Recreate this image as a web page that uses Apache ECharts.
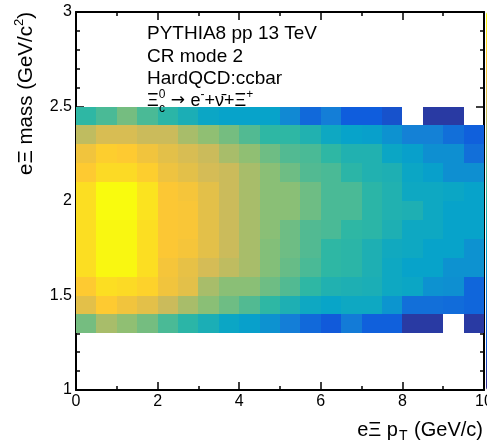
<!DOCTYPE html>
<html>
<head>
<meta charset="utf-8">
<script src="https://cdn.jsdelivr.net/npm/echarts@6/dist/echarts.min.js"></script>
<style>
  html, body { margin: 0; padding: 0; background: #fff; }
  #chart { width: 487px; height: 445px; }
</style>
</head>
<body>
<div id="chart"></div>
<script>
// Bin edges of the 2D histogram
const ptEdges = [0, 0.5, 1, 1.5, 2, 2.5, 3, 3.5, 4, 4.5, 5, 5.5, 6, 6.5, 7, 7.5, 8, 8.5, 9, 9.5, 10];
const massEdges = [1.3, 1.4, 1.5, 1.6, 1.7, 1.8, 1.9, 2.0, 2.1, 2.2, 2.3, 2.4, 2.5];

// Tick labels of the two axes
const ptTicks = [0, 2, 4, 6, 8, 10];
const massTicks = [1, 1.5, 2, 2.5, 3];

// Bin contents (palette units 0-100), one array per mass row; null = empty bin
const yieldM130 = [60, 68, 64, 60, 54, 49, 44, 39, 36, 31, 24, 17, 12, 23, 14, 14, 4, 4, null, 4];
const yieldM140 = [80, 88, 84, 80, 74, 68, 63, 59, 55, 50, 45, 40, 38, 40, 40, 32, 19, 19, 18, 16];
const yieldM150 = [88, 93, 92, 90, 84, 80, 68, 63, 63, 59, 55, 50, 46, 45, 44, 40, 39, 31, 30, 16];
const yieldM160 = [93, 99, 99, 93, 85, 81, 76, 72, 68, 62, 58, 54, 50, 49, 45, 40, 37, 37, 31, 31];
const yieldM170 = [93, 99, 99, 93, 87, 85, 80, 74, 68, 62, 59, 55, 50, 49, 45, 41, 40, 37, 37, 31];
const yieldM180 = [93, 99, 99, 93, 87, 86, 80, 74, 68, 63, 59, 55, 54, 50, 49, 45, 40, 40, 37, 37];
const yieldM190 = [93, 100, 100, 94, 87, 86, 80, 74, 68, 63, 63, 59, 54, 54, 49, 46, 45, 40, 37, 37];
const yieldM200 = [93, 100, 100, 94, 87, 85, 80, 74, 68, 63, 63, 59, 54, 54, 49, 46, 40, 40, 39, 37];
const yieldM210 = [88, 92, 92, 89, 83, 80, 76, 74, 68, 63, 59, 55, 54, 49, 46, 45, 39, 36, 30, 30];
const yieldM220 = [84, 89, 88, 84, 80, 77, 74, 68, 64, 59, 55, 54, 50, 46, 46, 39, 36, 30, 30, 19];
const yieldM230 = [72, 77, 77, 74, 74, 68, 64, 60, 55, 50, 50, 46, 40, 37, 36, 31, 25, 25, 19, 14];
const yieldM240 = [50, 54, 60, 54, 49, 44, 39, 37, 37, 37, 28, 17, 24, 13, 13, 10, null, 4, 4, null];

const yieldRows = [yieldM130, yieldM140, yieldM150, yieldM160, yieldM170, yieldM180,
                   yieldM190, yieldM200, yieldM210, yieldM220, yieldM230, yieldM240];

// kBird colour palette
const birdPalette = ['#352a87', '#0f5cdd', '#1481d6', '#06a4ca', '#2eb7a4',
                     '#87bf77', '#d1bb59', '#fec832', '#f9fb0e'];

// One cell per filled bin: [ptLow, massLow, value, ptHigh, massHigh]
const cells = [];
yieldRows.forEach((row, j) => {
  row.forEach((v, i) => {
    if (v !== null) cells.push([ptEdges[i], massEdges[j], v, ptEdges[i + 1], massEdges[j + 1]]);
  });
});

const FONT = '"Liberation Sans", Arial, Helvetica, sans-serif';

function frameAxis(extra) {
  return Object.assign({
    type: 'value',
    axisLine: { show: true, onZero: false, lineStyle: { color: '#000', width: 2 } },
    axisTick: { show: true, inside: true, length: 8, lineStyle: { color: '#000', width: 1.5 } },
    splitLine: { show: false },
    minorSplitLine: { show: false }
  }, extra);
}

function minor(n) {
  return { show: true, splitNumber: n, length: 4, lineStyle: { color: '#000', width: 1.5 } };
}

const labelStyle = { show: true, color: '#000', fontSize: 16, fontFamily: FONT, margin: 4,
                     showMinLabel: true, showMaxLabel: true };

const ptMin = ptTicks[0], ptMax = ptTicks[ptTicks.length - 1], ptStep = ptTicks[1] - ptTicks[0];
const mMin = massTicks[0], mMax = massTicks[massTicks.length - 1], mStep = massTicks[1] - massTicks[0];

const chart = echarts.init(document.getElementById('chart'), null, { renderer: 'canvas' });

chart.setOption({
  animation: false,
  backgroundColor: '#fff',
  grid: { left: 76, top: 12, width: 408, height: 378, containLabel: false, outerBoundsMode: 'none' },
  xAxis: [
    frameAxis({ position: 'bottom', min: ptMin, max: ptMax, interval: ptStep,
                minorTick: minor(2), axisLabel: labelStyle }),
    frameAxis({ position: 'top', min: ptMin, max: ptMax, interval: ptStep,
                minorTick: minor(2), axisLabel: { show: false } })
  ],
  yAxis: [
    frameAxis({ position: 'left', min: mMin, max: mMax, interval: mStep,
                minorTick: minor(5), axisLabel: labelStyle }),
    frameAxis({ position: 'right', min: mMin, max: mMax, interval: mStep,
                minorTick: minor(5), axisLabel: { show: false } })
  ],
  visualMap: {
    type: 'continuous',
    min: 0,
    max: 100,
    dimension: 2,
    seriesIndex: 0,
    calculable: false,
    show: true,
    left: 486,
    top: 12,
    itemWidth: 20,
    itemHeight: 378,
    padding: 0,
    inRange: { color: birdPalette }
  },
  series: [{
    type: 'custom',
    coordinateSystem: 'cartesian2d',
    xAxisIndex: 0,
    yAxisIndex: 0,
    dimensions: ['ptLow', 'massLow', 'yield', 'ptHigh', 'massHigh'],
    encode: { x: [0, 3], y: [1, 4] },
    silent: true,
    data: cells,
    renderItem: function (params, api) {
      // snap bin edges to whole pixels so neighbouring cells butt together
      const topLeft = api.coord([api.value(0), api.value(4)]).map(Math.round);
      const bottomRight = api.coord([api.value(3), api.value(1)]).map(Math.round);
      return {
        type: 'rect',
        shape: { x: topLeft[0], y: topLeft[1],
                 width: bottomRight[0] - topLeft[0], height: bottomRight[1] - topLeft[1] },
        style: { fill: api.visual('color') }
      };
    }
  }],
  graphic: [
    // x-axis title
    {
      type: 'text', z: 100, x: 483, y: 430,
      style: {
        text: '{t|eΞ p}{sub|T}{t| (GeV/c)}',
        align: 'right', verticalAlign: 'middle', fill: '#000',
        rich: {
          t: { fontSize: 20, fontFamily: FONT, fill: '#000', lineHeight: 26 },
          sub: { fontSize: 14, fontFamily: FONT, fill: '#000', verticalAlign: 'bottom', padding: [0, 1, 0, 1] }
        }
      }
    },
    // y-axis title
    {
      type: 'text', z: 100, x: 26, y: 12, rotation: Math.PI / 2,
      style: {
        text: '{t|eΞ mass (GeV/c}{sup|2}{t|)}',
        align: 'right', verticalAlign: 'middle', fill: '#000',
        rich: {
          t: { fontSize: 20.5, fontFamily: FONT, fill: '#000', lineHeight: 26 },
          sup: { fontSize: 13, fontFamily: FONT, fill: '#000', verticalAlign: 'top' }
        }
      }
    },
    // annotation block
    {
      type: 'text', z: 100, x: 147, y: 34,
      style: { text: 'PYTHIA8 pp 13 TeV', fontSize: 19, fontFamily: FONT, fill: '#000', verticalAlign: 'middle' }
    },
    {
      type: 'text', z: 100, x: 147, y: 57,
      style: { text: 'CR mode 2', fontSize: 19, fontFamily: FONT, fill: '#000', verticalAlign: 'middle' }
    },
    {
      type: 'text', z: 100, x: 147, y: 79,
      style: { text: 'HardQCD:ccbar', fontSize: 19, fontFamily: FONT, fill: '#000', verticalAlign: 'middle' }
    },
    {
      type: 'text', z: 100, x: 147, y: 101,
      style: {
        text: '{b|Ξ}{sup|0}{arr| → }{b|e}{sup|-}{b|+ν̄+Ξ}{sup|+}',
        verticalAlign: 'middle', fill: '#000',
        rich: {
          b: { fontSize: 18, fontFamily: FONT, fill: '#000', lineHeight: 24 },
          arr: { fontSize: 17, fontFamily: '"DejaVu Sans", sans-serif', fill: '#000', lineHeight: 24 },
          sup: { fontSize: 12, fontFamily: FONT, fill: '#000', verticalAlign: 'top' }
        }
      }
    },
    {
      type: 'text', z: 100, x: 159, y: 109,
      style: { text: 'c', fontSize: 12, fontFamily: FONT, fill: '#000', verticalAlign: 'middle' }
    }
  ]
});
</script>
</body>
</html>
